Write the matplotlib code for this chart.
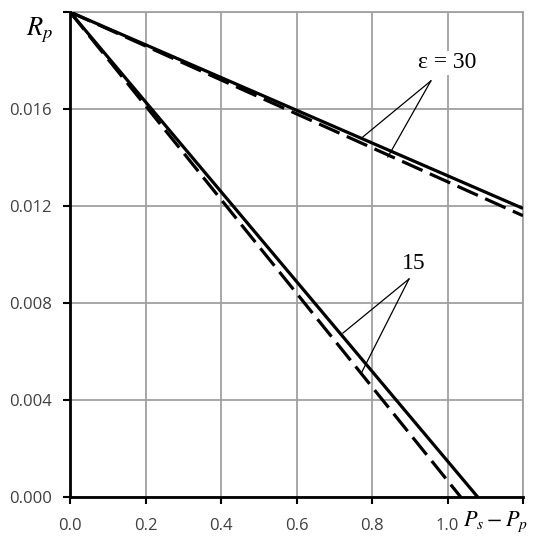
import matplotlib
matplotlib.use('Agg')
from matplotlib import pyplot as plt

# 数据
x_eps30 = [0.0, 1.2]
y_eps30_solid = [0.0200, 0.0119]
y_eps30_dash = [0.0200, 0.0116]

x15_solid = [0.0, 1.08]
y15_solid = [0.0200, 0.0]
x15_dash = [0.0, 1.035]
y15_dash = [0.0200, 0.0]

xticks = [0.0, 0.2, 0.4, 0.6, 0.8, 1.0, 1.2]
xtick_labels = ['0.0', '0.2', '0.4', '0.6', '0.8', '1.0', '']
yticks = [0.000, 0.004, 0.008, 0.012, 0.016, 0.020]
ytick_labels = ['0.000', '0.004', '0.008', '0.012', '0.016', '']

plt.rcParams['mathtext.fontset'] = 'stix'
plt.rcParams['font.family'] = ['Open Sans', 'DejaVu Sans']

fig = plt.figure(figsize=(5.35, 5.5), dpi=100)
ax = fig.add_axes([70 / 535, 1 - 497 / 550, 453 / 535, 485 / 550])

ax.plot(x_eps30, y_eps30_solid, color='black', lw=2.3, solid_capstyle='butt', zorder=3)
ax.plot(x_eps30, y_eps30_dash, color='black', lw=2.3, dashes=(7, 2.5), dash_capstyle='butt', zorder=3)
ax.plot(x15_solid, y15_solid, color='black', lw=2.3, solid_capstyle='butt', zorder=3)
ax.plot(x15_dash, y15_dash, color='black', lw=2.3, dashes=(7, 2.5), dash_capstyle='butt', zorder=3)

ax.set_xlim(0, 1.2)
ax.set_ylim(0, 0.02)
ax.set_xticks(xticks)
ax.set_xticklabels(xtick_labels)
ax.set_yticks(yticks)
ax.set_yticklabels(ytick_labels)
ax.tick_params(direction='out', length=5, width=1.5, labelsize=12, labelcolor='#404040')
ax.tick_params(axis='x', pad=10)
ax.tick_params(axis='y', pad=8)

ax.grid(True, color='#a0a0a0', lw=1.3)
ax.set_axisbelow(True)
for side in ['left', 'bottom']:
    ax.spines[side].set_linewidth(2)
    ax.spines[side].set_zorder(4)
for side in ['top', 'right']:
    ax.spines[side].set_color('#a0a0a0')
    ax.spines[side].set_linewidth(1.3)

# 标注
ax.text(1.0, 0.0179, 'ε = 30', fontsize=17, ha='center', va='center',
        family='Liberation Serif',
        bbox=dict(facecolor='white', edgecolor='none', pad=1))
ax.plot([0.956, 0.776], [0.01716, 0.01485], color='black', lw=0.9, zorder=3)
ax.plot([0.956, 0.842], [0.01716, 0.01402], color='black', lw=0.9, zorder=3)

ax.text(0.911, 0.00961, '15', fontsize=17, ha='center', va='center',
        family='Liberation Serif',
        bbox=dict(facecolor='white', edgecolor='none', pad=1))
ax.plot([0.898, 0.723], [0.00899, 0.00676], color='black', lw=0.9, zorder=3)
ax.plot([0.898, 0.773], [0.00899, 0.00515], color='black', lw=0.9, zorder=3)

# 坐标轴标签
fig.text(40 / 535, 1 - 30 / 550, r'$R_p$', fontsize=19, ha='center', va='center')
fig.text(463 / 535, 1 - 522 / 550, r'$P_s - P_p$', fontsize=16, ha='left', va='center')

plt.savefig('out.png', dpi=100)
